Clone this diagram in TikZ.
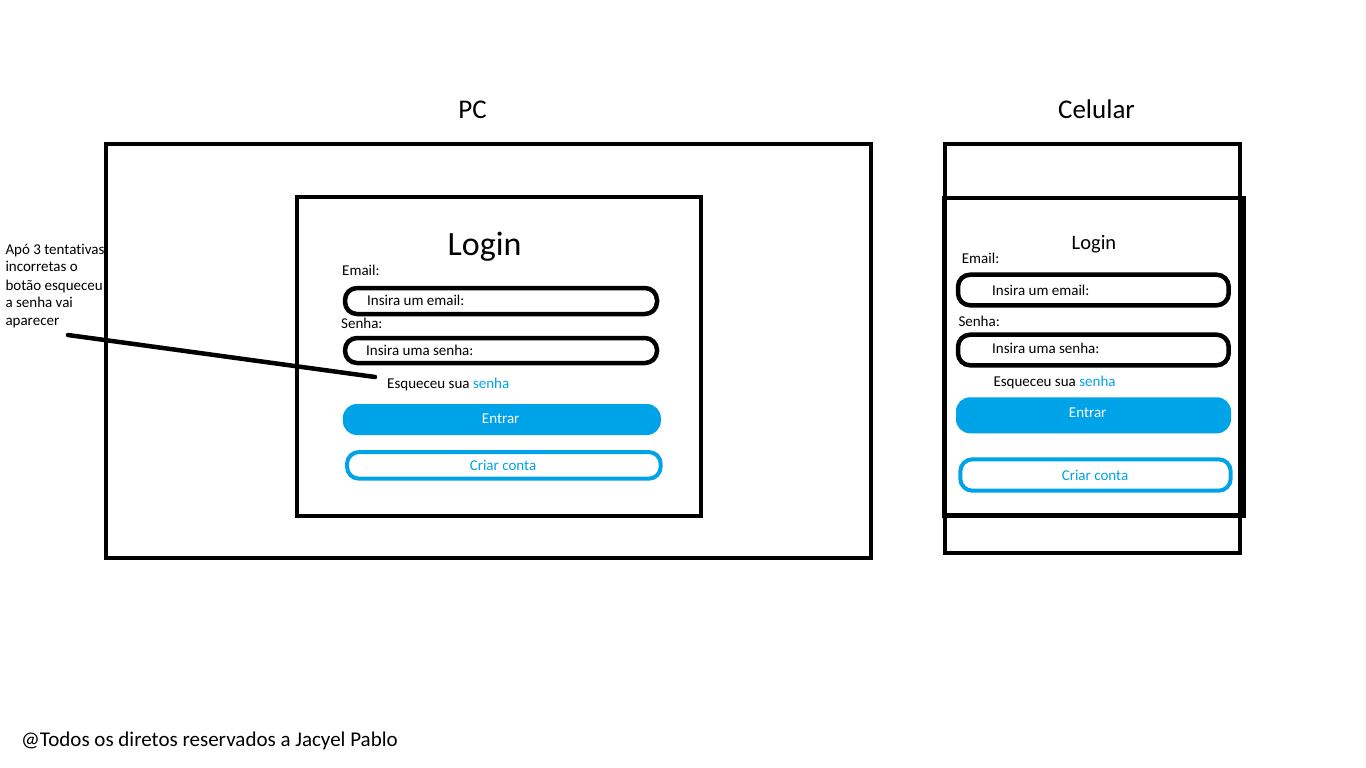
\documentclass[tikz,border=0pt]{standalone}
\usepackage{fontspec}
\setmainfont{Carlito}[RawFeature=-liga]
\definecolor{pblue}{HTML}{00A2E8}
\tikzset{
  frame/.style={draw=black, line width=4.3pt, minimum width=#1, inner sep=0pt},
  field/.style={draw=black, line width=4.5pt, rounded corners=12pt, inner sep=0pt},
  btnfill/.style={fill=pblue, rounded corners=14pt, inner sep=0pt},
  btnline/.style={draw=pblue, line width=4pt, rounded corners=12pt, inner sep=0pt},
  txt/.style={inner sep=0pt, anchor=base west, font=\fontsize{15}{18}\selectfont},
  ctxt/.style={inner sep=0pt, anchor=base, font=\fontsize{15}{18}\selectfont},
  title/.style={inner sep=0pt, anchor=base, font=\fontsize{27}{32}\selectfont},
}
\begin{document}
\begin{tikzpicture}[x=1pt,y=-1pt]
\useasboundingbox[fill=white] (0,0) rectangle (1366,768);

% annotation text
\node[txt] (n1) at (5.3,254) {Apó 3 tentativas};
\node[txt] (n2) at (5.3,271.7) {incorretas o};
\node[txt] (n3) at (5.3,290) {botão esqueceu};
\node[txt] (n4) at (5.3,307.3) {a senha vai};
\node[txt] (n5) at (5.3,325) {aparecer};

% titles
\node[title] (tpc) at (472.5,118.3) {PC};
\node[title] (tcel) at (1096.5,118.3) {Celular};

% PC
\node[frame=765pt, minimum height=414pt] (pcout) at (488.5,351) {};
\node[frame=404pt, minimum height=319pt] (pcin) at (499,356.5) {};
\node[inner sep=0pt, anchor=base, font=\fontsize{34}{40}\selectfont] (pclogin) at (484.5,255) {Login};
\node[txt] (pcemaill) at (342,275.5) {Email:};
\node[field, minimum width=312pt, minimum height=26pt] (pcf1) at (501,301) {};
\node[txt] (pcf1t) at (367,305) {Insira um email:};
\node[txt] (pcsenhal) at (341,328.3) {Senha:};
\node[field, minimum width=312pt, minimum height=25pt] (pcf2) at (501,350.5) {};
\node[txt] (pcf2t) at (366,355) {Insira uma senha:};
\node[txt] (pcesq) at (387,388.3) {Esqueceu sua \textcolor{pblue}{senha}};
\node[btnfill, minimum width=318pt, minimum height=31pt] (pcent) at (501.85,419.5) {};
\node[ctxt, text=white] (pcentt) at (500.7,423.3) {Entrar};
\node[btnline, minimum width=313.7pt, minimum height=26.7pt] (pccri) at (503.85,465.35) {};
\node[ctxt, text=pblue] (pccrit) at (503,470) {Criar conta};

% Celular
\node[frame=295pt, minimum height=409pt] (celout) at (1092.5,348.5) {};
\node[frame=299.5pt, minimum height=317.5pt] (celin) at (1093.75,356.75) {};
\node[inner sep=0pt, anchor=base, font=\fontsize{20.5}{24}\selectfont] (cellogin) at (1094,249.3) {Login};
\node[txt] (celemaill) at (961.7,263.3) {Email:};
\node[field, minimum width=270.7pt, minimum height=30.6pt] (celf1) at (1093.35,290) {};
\node[txt] (celf1t) at (992,295) {Insira um email:};
\node[txt] (celsenhal) at (958.3,326.7) {Senha:};
\node[field, minimum width=270.7pt, minimum height=30.6pt] (celf2) at (1093.35,350) {};
\node[txt] (celf2t) at (992,353.3) {Insira uma senha:};
\node[txt] (celesq) at (993.3,386.7) {Esqueceu sua \textcolor{pblue}{senha}};
\node[btnfill, minimum width=275pt, minimum height=36pt] (celent) at (1093.5,415.3) {};
\node[ctxt, text=white] (celentt) at (1087.7,417.7) {Entrar};
\node[btnline, minimum width=270.4pt, minimum height=31.4pt] (celcri) at (1095.5,475) {};
\node[ctxt, text=pblue] (celcrit) at (1095,480) {Criar conta};

% annotation connector
\coordinate (ann) at (68,335);
\coordinate (annend) at (375,377);
\draw[line width=4.5pt, line cap=round] (ann) -- (annend);

% footer
\node[inner sep=0pt, anchor=base west, font=\fontsize{21}{25}\selectfont] (foot) at (21,746.7) {@Todos os diretos reservados a Jacyel Pablo};
\end{tikzpicture}
\end{document}
